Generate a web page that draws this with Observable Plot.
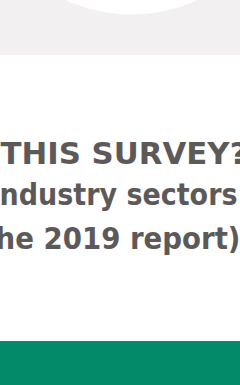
<!DOCTYPE html>
<html><head><meta charset="utf-8">
<script src="https://cdn.jsdelivr.net/npm/d3@7"></script>
<script src="https://cdn.jsdelivr.net/npm/@observablehq/plot@0.6"></script>
<style>html,body{margin:0;padding:0;background:#fff;overflow:hidden}</style>
</head><body><div id="chart"></div>
<script>
const bandNames = ["top", "middle", "bottom"];
const bandTop = [0, 55, 341];
const bandBottom = [55, 341, 385];
const bandColors = ["#f2f0f0", "#ffffff", "#038a68"];
const circleX = [131];
const circleY = [-144];
const circleR = [158];
const lines = ["THIS SURVEY?", "ndustry sectors", "he 2019 report)"];
const lineX = [0, -1, -5];
const lineY = [163, 204, 248];
const lineSize = [29.5, 30.5, 30.5];
const lineWeight = ["bold", "600", "600"];
const lineWidth = [247, 238, 245];

const bands = bandNames.map((n, i) => ({n, y1: bandTop[i], y2: bandBottom[i], c: bandColors[i]}));
const textRows = lines.map((t, i) => ({t, x: lineX[i], y: lineY[i], s: lineSize[i], w: lineWeight[i], len: lineWidth[i]}));

const chart = Plot.plot({
  width: 240, height: 385,
  margin: 0,
  x: {domain: [0, 240], range: [0, 240], axis: null},
  y: {domain: [0, 385], range: [0, 385], axis: null},
  style: {background: "transparent", fontFamily: "'DejaVu Sans', sans-serif"},
  marks: [
    Plot.rect(bands, {x1: 0, x2: 240, y1: "y1", y2: "y2", fill: "c"}),
    Plot.dot(circleX.map((x, i) => ({x, y: circleY[i], r: circleR[i]})), {x: "x", y: "y", r: circleR[0], fill: "#ffffff", stroke: null}),
    ...textRows.map(row => Plot.text([row], {x: "x", y: "y", text: "t", textAnchor: "start", lineAnchor: "bottom", fontSize: row.s, fontWeight: row.w, fill: "#5d5959", className: "line-text"}))
  ]
});
document.getElementById("chart").appendChild(chart);
d3.select(chart).selectAll("g.line-text text").each(function(d, i) {
  d3.select(this).attr("textLength", textRows[i].len).attr("lengthAdjust", "spacingAndGlyphs");
});
</script></body></html>
